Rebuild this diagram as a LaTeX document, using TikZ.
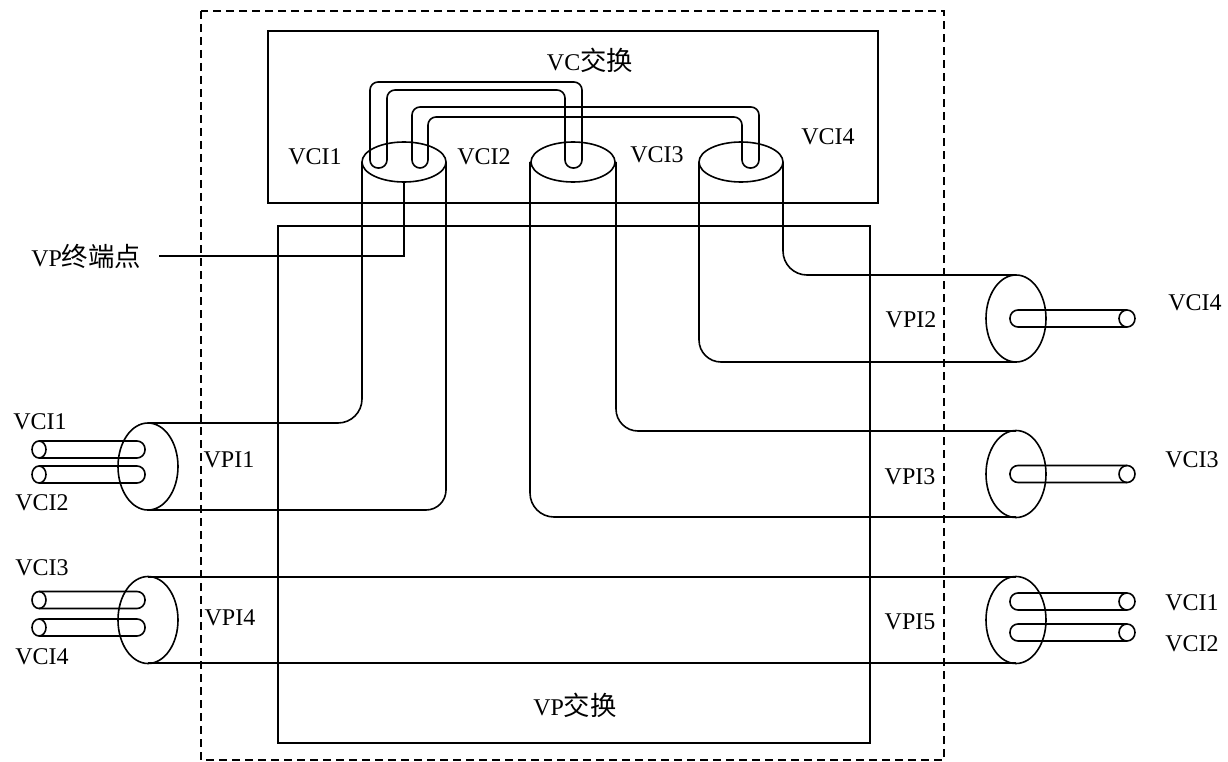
\documentclass[tikz,border=0pt]{standalone}
\usepackage{fontspec}
\setmainfont{Liberation Serif}
\newfontfamily\cjk{Noto Sans CJK SC}[Scale=1.1]
\usetikzlibrary{positioning}
\tikzset{
  figure/.style={x=1pt,y=-1pt,line width=1.6pt,font=\fontsize{24}{27}\selectfont},
  frame/.style={draw,line width=1.7pt},
  outline/.style={draw,dash pattern=on 8pt off 5pt,line width=1.7pt},
  wire/.style={draw,rounded corners=8pt},
  elbow/.style={draw,rounded corners=24pt},
  lbl/.style={inner sep=0pt},
}

\begin{document}
\begin{tikzpicture}[figure]
  \useasboundingbox (0,0) rectangle (1228,762);

  % frames
  \draw[outline] (201,11) rectangle (944,760);
  \draw[frame] (268,31) rectangle (878,203);
  \draw[frame] (278,226) rectangle (870,743);
  \node[lbl] (vcsw) at (590,60) {VC{\cjk 交换}};
  \node[lbl] (vpsw) at (575,705) {VP{\cjk 交换}};

  % vertical cylinders in the VC switch
  \foreach \cx/\n in {404/cyla, 573/cylb, 741/cylc}
    \draw (\cx,162) ellipse [x radius=42pt,y radius=20pt] coordinate (\n) at (\cx,162);

  % VC cross-connections
  \draw[wire] (370,168) -- (370,82) -- (582,82) -- (582,168) -- (565,168)
    -- (565,90) -- (387,90) -- (387,168) -- cycle;
  \draw[wire] (412,168) -- (412,107) -- (759,107) -- (759,168) -- (742,168)
    -- (742,117) -- (428,117) -- (428,168) -- cycle;

  % cylinder walls down into the VP switch
  \draw[elbow] (362,162) -- (362,423) -- (148,423);
  \draw[elbow,rounded corners=20pt] (446,162) -- (446,510) -- (148,510);
  \draw[elbow] (530,162) -- (530,517) -- (1016,517);
  \draw[elbow,rounded corners=22pt] (616,162) -- (616,431) -- (1016,431);
  \draw[elbow,rounded corners=22pt] (699,162) -- (699,362) -- (1016,362);
  \draw[elbow] (783,162) -- (783,275) -- (1016,275);
  \draw (148,577) -- (1016,577);
  \draw (148,663) -- (1016,663);

  % VP ends
  \foreach \cx/\cy/\n in {148/466.5/vpa, 148/620/vpd, 1016/318.5/vpb, 1016/474/vpc, 1016/620/vpe}
    \draw (\cx,\cy) ellipse [x radius=30pt,y radius=43.5pt] coordinate (\n) at (\cx,\cy);

  % VC tubes leaving on the left
  \foreach \ty in {449.5,474.5,600,627.5} {
    \draw[wire] (39,\ty-8.5) -- (145,\ty-8.5) -- (145,\ty+8.5) -- (39,\ty+8.5);
    \draw (39,\ty) ellipse [x radius=7pt,y radius=8.5pt];
  }
  % VC tubes leaving on the right
  \foreach \ty in {318.5,474,601.5,632.5} {
    \draw[wire] (1127,\ty-8.5) -- (1010,\ty-8.5) -- (1010,\ty+8.5) -- (1127,\ty+8.5);
    \draw (1127,\ty) ellipse [x radius=8pt,y radius=8.5pt];
  }

  % VP termination point
  \coordinate (tap) at (404,182);
  \node[lbl,anchor=east,inner xsep=17pt] (vpterm) at (159,256) {VP{\cjk 终端点}};
  \draw (vpterm.east) -| (tap);

  % labels
  \foreach \px/\py/\t/\n in {315/157/VCI1/ta, 484/157/VCI2/tb, 657/155/VCI3/tc, 828/137/VCI4/td,
      40/422/VCI1/la, 42/503/VCI2/lb, 42/568/VCI3/lc, 42/657/VCI4/ld,
      1195/303/VCI4/ra, 1192/460/VCI3/rb, 1192/603/VCI1/rc, 1192/644/VCI2/rd,
      229/460/VPI1/pa, 230/618/VPI4/pd, 911/320/VPI2/pb, 910/477/VPI3/pc, 910/622/VPI5/pe}
    \node[lbl] (\n) at (\px,\py) {\t};
\end{tikzpicture}
\end{document}
